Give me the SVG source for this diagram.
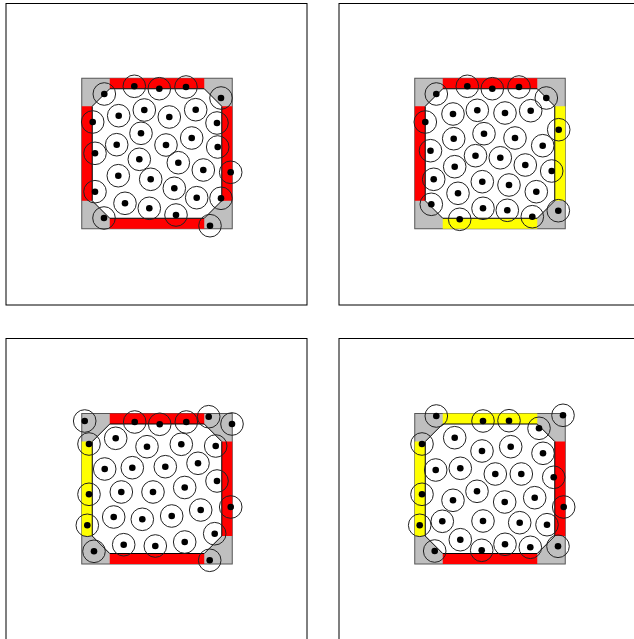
<svg xmlns="http://www.w3.org/2000/svg" xmlns:xlink="http://www.w3.org/1999/xlink" width="634" height="639" viewBox="0 0 634 639">
<style>
.frame{fill:#fff;stroke:#000;stroke-width:1}
.box{fill:#bfbfbf;stroke:#555;stroke-width:1}
.red{fill:#ff0000}
.yel{fill:#ffff00}
.oct{fill:#fff;stroke:#000;stroke-width:1}
.ring{fill:none;stroke:#222;stroke-width:1}
</style>
<defs>
<g id="p"><circle class="ring" r="11.3"/><circle r="3.3" fill="#000"/></g>
<polygon id="octo" class="oct" points="28,10.5 122.5,10.5 140,28 140,122.5 122.5,140 28,140 10.5,122.5 10.5,28"/>
</defs>
<rect width="634" height="639" fill="#fff"/>
<g id="frames">
<rect class="frame" x="6" y="3.5" width="301" height="301.5"/>
<rect class="frame" x="339" y="3.5" width="301" height="301.5"/>
<rect class="frame" x="6" y="338.5" width="301" height="301.5"/>
<rect class="frame" x="339" y="338.5" width="301" height="301.5"/>
</g>
<g id="panel1">
<g transform="translate(81.75,78.25)">
<rect class="box" width="150.5" height="150.5"/>
<rect class="red" x="28" y="0" width="94.5" height="10.5"/>
<rect class="red" x="140" y="28" width="10.5" height="94.5"/>
<rect class="red" x="28" y="140" width="94.5" height="10.5"/>
<rect class="red" x="0" y="28" width="10.5" height="94.5"/>
<use xlink:href="#octo"/>
</g>
<g id="particles1">
<use xlink:href="#p" x="104.3" y="94"/><use xlink:href="#p" x="134.3" y="86.3"/><use xlink:href="#p" x="159.3" y="88.7"/><use xlink:href="#p" x="186" y="87"/><use xlink:href="#p" x="221" y="98"/>
<use xlink:href="#p" x="92.7" y="122"/><use xlink:href="#p" x="118.7" y="115.7"/><use xlink:href="#p" x="144.3" y="110"/><use xlink:href="#p" x="169.3" y="117"/><use xlink:href="#p" x="195.7" y="109.7"/>
<use xlink:href="#p" x="217" y="123"/><use xlink:href="#p" x="141" y="133.3"/><use xlink:href="#p" x="116.7" y="144.7"/><use xlink:href="#p" x="166" y="145"/><use xlink:href="#p" x="191.7" y="138"/>
<use xlink:href="#p" x="217.7" y="147"/><use xlink:href="#p" x="95" y="153.3"/><use xlink:href="#p" x="139.3" y="159.3"/><use xlink:href="#p" x="178.3" y="162.7"/><use xlink:href="#p" x="203.3" y="170"/>
<use xlink:href="#p" x="230.7" y="172.3"/><use xlink:href="#p" x="118.3" y="175.7"/><use xlink:href="#p" x="150.7" y="179.3"/><use xlink:href="#p" x="174.3" y="188.3"/><use xlink:href="#p" x="95" y="191.7"/>
<use xlink:href="#p" x="196.7" y="197.7"/><use xlink:href="#p" x="221" y="198.3"/><use xlink:href="#p" x="125" y="203.3"/><use xlink:href="#p" x="149.3" y="208.3"/><use xlink:href="#p" x="176" y="215"/>
<use xlink:href="#p" x="104" y="218"/><use xlink:href="#p" x="210" y="225.7"/>
</g>
</g>
<g id="panel2">
<g transform="translate(414.75,78.25)">
<rect class="box" width="150.5" height="150.5"/>
<rect class="red" x="28" y="0" width="94.5" height="10.5"/>
<rect class="yel" x="140" y="28" width="10.5" height="94.5"/>
<rect class="yel" x="28" y="140" width="94.5" height="10.5"/>
<rect class="red" x="0" y="28" width="10.5" height="94.5"/>
<use xlink:href="#octo"/>
</g>
<g id="particles2">
<use xlink:href="#p" x="436.3" y="94"/><use xlink:href="#p" x="467.3" y="86.3"/><use xlink:href="#p" x="492.3" y="88.7"/><use xlink:href="#p" x="519" y="87"/><use xlink:href="#p" x="546.3" y="98"/>
<use xlink:href="#p" x="425.3" y="122"/><use xlink:href="#p" x="453" y="114"/><use xlink:href="#p" x="477.3" y="110.3"/><use xlink:href="#p" x="505" y="113"/><use xlink:href="#p" x="530.7" y="110.7"/>
<use xlink:href="#p" x="558.7" y="129.7"/><use xlink:href="#p" x="453.7" y="138.7"/><use xlink:href="#p" x="484" y="133.7"/><use xlink:href="#p" x="515" y="138"/><use xlink:href="#p" x="542.7" y="145.7"/>
<use xlink:href="#p" x="430.5" y="150.7"/><use xlink:href="#p" x="475.5" y="155.7"/><use xlink:href="#p" x="500.3" y="157.8"/><use xlink:href="#p" x="525.3" y="165"/><use xlink:href="#p" x="551.7" y="171"/>
<use xlink:href="#p" x="454.7" y="166.7"/><use xlink:href="#p" x="433.7" y="179.3"/><use xlink:href="#p" x="482.3" y="181.7"/><use xlink:href="#p" x="509" y="185"/><use xlink:href="#p" x="536.3" y="191.7"/>
<use xlink:href="#p" x="458" y="193.3"/><use xlink:href="#p" x="431.3" y="204.3"/><use xlink:href="#p" x="483" y="208.3"/><use xlink:href="#p" x="507.3" y="210.3"/><use xlink:href="#p" x="532.3" y="216.7"/>
<use xlink:href="#p" x="459.7" y="219.3"/><use xlink:href="#p" x="558.3" y="210.7"/>
</g>
</g>
<g id="panel3">
<g transform="translate(81.75,413.5)">
<rect class="box" width="150.5" height="150.5"/>
<rect class="red" x="28" y="0" width="94.5" height="10.5"/>
<rect class="red" x="140" y="28" width="10.5" height="94.5"/>
<rect class="red" x="28" y="140" width="94.5" height="10.5"/>
<rect class="yel" x="0" y="28" width="10.5" height="94.5"/>
<use xlink:href="#octo"/>
</g>
<g id="particles3">
<use xlink:href="#p" x="84.7" y="421"/><use xlink:href="#p" x="134.7" y="422"/><use xlink:href="#p" x="159.7" y="424.3"/><use xlink:href="#p" x="186.3" y="422"/><use xlink:href="#p" x="208.7" y="416.7"/>
<use xlink:href="#p" x="232" y="424"/><use xlink:href="#p" x="89" y="444"/><use xlink:href="#p" x="115.7" y="438.3"/><use xlink:href="#p" x="147" y="446.7"/><use xlink:href="#p" x="181.3" y="444.3"/>
<use xlink:href="#p" x="215.7" y="446"/><use xlink:href="#p" x="104.7" y="469"/><use xlink:href="#p" x="132.3" y="467.7"/><use xlink:href="#p" x="165.3" y="466.7"/><use xlink:href="#p" x="198" y="463.3"/>
<use xlink:href="#p" x="217" y="481"/><use xlink:href="#p" x="184.7" y="487.5"/><use xlink:href="#p" x="89" y="494.3"/><use xlink:href="#p" x="121.3" y="492"/><use xlink:href="#p" x="153" y="492"/>
<use xlink:href="#p" x="230.7" y="507"/><use xlink:href="#p" x="113.7" y="517"/><use xlink:href="#p" x="142.3" y="519.3"/><use xlink:href="#p" x="171.7" y="516"/><use xlink:href="#p" x="200.7" y="510"/>
<use xlink:href="#p" x="87.3" y="525.3"/><use xlink:href="#p" x="214.7" y="533.7"/><use xlink:href="#p" x="123.7" y="544.7"/><use xlink:href="#p" x="155.3" y="546"/><use xlink:href="#p" x="184.7" y="542"/>
<use xlink:href="#p" x="94" y="551.3"/><use xlink:href="#p" x="209.7" y="560.3"/>
</g>
</g>
<g id="panel4">
<g transform="translate(414.75,413.5)">
<rect class="box" width="150.5" height="150.5"/>
<rect class="yel" x="28" y="0" width="94.5" height="10.5"/>
<rect class="red" x="140" y="28" width="10.5" height="94.5"/>
<rect class="red" x="28" y="140" width="94.5" height="10.5"/>
<rect class="yel" x="0" y="28" width="10.5" height="94.5"/>
<use xlink:href="#octo"/>
</g>
<g id="particles4">
<use xlink:href="#p" x="436.3" y="416"/><use xlink:href="#p" x="483" y="421"/><use xlink:href="#p" x="509" y="420.7"/><use xlink:href="#p" x="563" y="415.3"/><use xlink:href="#p" x="539" y="428.3"/>
<use xlink:href="#p" x="422" y="444"/><use xlink:href="#p" x="454.7" y="437.7"/><use xlink:href="#p" x="482" y="451"/><use xlink:href="#p" x="510.7" y="446.7"/><use xlink:href="#p" x="543" y="453.3"/>
<use xlink:href="#p" x="435.7" y="470"/><use xlink:href="#p" x="460.3" y="468.3"/><use xlink:href="#p" x="495.3" y="474"/><use xlink:href="#p" x="521.3" y="474"/><use xlink:href="#p" x="553.7" y="477.3"/>
<use xlink:href="#p" x="422" y="494.3"/><use xlink:href="#p" x="453" y="500.3"/><use xlink:href="#p" x="477" y="491.3"/><use xlink:href="#p" x="504.7" y="502"/><use xlink:href="#p" x="534.7" y="497.7"/>
<use xlink:href="#p" x="563.7" y="507"/><use xlink:href="#p" x="419.7" y="525.3"/><use xlink:href="#p" x="442.3" y="521.3"/><use xlink:href="#p" x="483" y="521"/><use xlink:href="#p" x="519.7" y="522.7"/>
<use xlink:href="#p" x="547" y="524.7"/><use xlink:href="#p" x="460.3" y="539.7"/><use xlink:href="#p" x="434.7" y="551"/><use xlink:href="#p" x="481.7" y="550.3"/><use xlink:href="#p" x="505" y="544.3"/>
<use xlink:href="#p" x="530.3" y="547.3"/><use xlink:href="#p" x="558" y="546.3"/>
</g>
</g>
</svg>
